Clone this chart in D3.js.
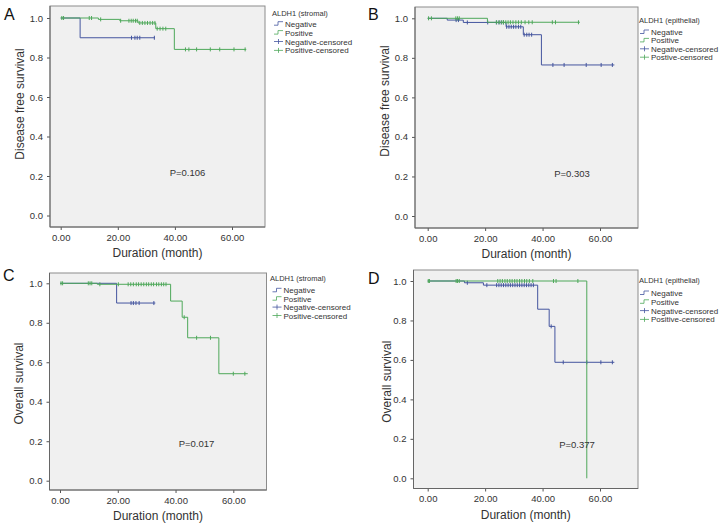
<!DOCTYPE html>
<html>
<head>
<meta charset="utf-8">
<script src="https://cdn.jsdelivr.net/npm/d3@7/dist/d3.min.js"></script>
<style>
  html, body { margin: 0; padding: 0; background: #ffffff; }
  svg { display: block; font-family: "Liberation Sans", Arial, Helvetica, sans-serif; font-weight: normal; }
</style>
</head>
<body>
<svg id="chart" width="720" height="528"></svg>
<script>
// ---------------- DATA ----------------
const xTicks = [0, 20, 40, 60];
const yTicks = [0, 0.2, 0.4, 0.6, 0.8, 1.0];
const xTitle = "Duration (month)";
const panelLetters = ["A", "B", "C", "D"];
const yTitles = ["Disease free survival", "Disease free survival", "Overall survival", "Overall survival"];
const legendTitles = ["ALDH1 (stromal)", "ALDH1 (epithelial)", "ALDH1 (stromal)", "ALDH1 (epithelial)"];
const legendItemsA = ["Negative", "Positive", "Negative-censored", "Positive-censored"];
const legendItemsB = ["Negative", "Positive", "Negative-censored", "Postive-censored"];
const pValues = ["P=0.106", "P=0.303", "P=0.017", "P=0.377"];

// Panel A: disease free survival, stromal
const A_neg_time = [0, 6.8, 33];
const A_neg_surv = [1, 0.9, 0.9];
const A_neg_cens = [24.8, 26.0, 26.8, 27.7, 32.8];
const A_pos_time = [0, 13.2, 20.7, 27.1, 33.3, 39.8, 65];
const A_pos_surv = [1, 0.993, 0.986, 0.975, 0.946, 0.841, 0.841];
const A_pos_cens = [0.4, 1.0, 10.0, 10.8, 14.0, 21.0, 23.9, 24.7, 25.4, 26.2, 26.8, 27.7, 28.6, 29.5, 30.4, 31.3, 32.2, 33.0, 33.8, 34.8, 35.8, 36.8, 43.7, 44.9, 47.6, 52.4, 55.7, 60.7, 64.6];

// Panel B: disease free survival, epithelial
const B_neg_time = [0, 6.8, 12.4, 27.3, 33.3, 39.6, 65];
const B_neg_surv = [1, 0.991, 0.979, 0.957, 0.917, 0.764, 0.764];
const B_neg_cens = [9.9, 10.7, 13.8, 20.9, 23.9, 24.8, 25.6, 26.4, 27.5, 28.3, 29.1, 29.9, 30.7, 31.6, 32.4, 33.6, 34.5, 35.3, 36.2, 43.6, 47.5, 55.2, 60.4, 64.3];
const B_pos_time = [0, 20.8, 53];
const B_pos_surv = [1, 0.98, 0.98];
const B_pos_cens = [0.3, 1.3, 9.8, 10.4, 11.0, 24.0, 24.9, 25.8, 26.4, 27.2, 28.0, 28.8, 29.7, 30.7, 31.6, 32.6, 33.9, 35.2, 36.4, 43.4, 44.5, 52.5];

// Panel C: overall survival, stromal
const C_neg_time = [0, 19.6, 33];
const C_neg_surv = [1, 0.9, 0.9];
const C_neg_cens = [24.6, 25.4, 26.3, 27.4, 32.5];
const C_pos_time = [0, 12.9, 38.3, 42.3, 44.2, 55.0, 65];
const C_pos_surv = [1, 0.995, 0.91, 0.828, 0.724, 0.542, 0.542];
const C_pos_cens = [0.35, 0.9, 9.8, 10.4, 11.0, 13.8, 20.2, 23.6, 24.5, 25.4, 26.4, 27.2, 28.1, 29.0, 29.9, 30.7, 31.6, 32.4, 33.4, 34.2, 35.1, 35.9, 36.7, 43.0, 47.3, 52.1, 60.0, 64.0];

// Panel D: overall survival, epithelial
const D_neg_time = [0, 12.8, 19.4, 38.3, 42.3, 44.3, 65];
const D_neg_surv = [1, 0.991, 0.979, 0.857, 0.77, 0.588, 0.588];
const D_neg_cens = [13.8, 20.6, 24.0, 24.8, 25.6, 26.4, 27.2, 28.0, 28.8, 29.6, 30.4, 31.2, 32.0, 32.8, 33.6, 34.4, 35.2, 36.0, 36.8, 43.0, 47.2, 55.4, 60.3, 64.3];
const D_pos_time = [0, 55.4, 55.4];
const D_pos_surv = [1, 0, 0];
const D_pos_cens = [0.2, 0.6, 9.9, 10.4, 11.0, 24.4, 25.2, 26.0, 26.9, 27.7, 28.6, 29.4, 30.3, 31.1, 32.0, 32.8, 33.7, 34.5, 35.4, 36.6, 43.8, 44.7, 52.3];

// ---------------- LAYOUT ----------------
const NEG_COLOR = "#44559f";
const POS_COLOR = "#4ea85a";
const TEXT_COLOR = "#333333";
const layout = [
  { frame: [50, 6, 265, 227], x0: 60.7, x60: 232, y1: 18, y0: 215.5,
    letter: [4, 20], ytitle: [24, 104], legend: [272, 15.7, 285, 26.7, 8.9], p: [187.5, 176] },
  { frame: [415, 7, 638, 228], x0: 427.7, x60: 600, y1: 18.3, y0: 216,
    letter: [368, 20], ytitle: [389, 101], legend: [639, 22.7, 651, 35, 8.4], p: [572, 176.7] },
  { frame: [49.5, 273, 266.5, 490], x0: 60, x60: 233.3, y1: 283.3, y0: 480.7,
    letter: [3, 281], ytitle: [23, 383.5], legend: [270, 280.7, 283.5, 293.3, 8.4], p: [196.5, 446.7] },
  { frame: [413.5, 270, 638, 488.5], x0: 427.7, x60: 600, y1: 281, y0: 478.3,
    letter: [368, 284], ytitle: [391, 381.7], legend: [639, 282.7, 651, 296, 8.8], p: [577, 447.7] }
];

const panels = [
  { neg: [A_neg_time, A_neg_surv, A_neg_cens], pos: [A_pos_time, A_pos_surv, A_pos_cens], items: legendItemsA },
  { neg: [B_neg_time, B_neg_surv, B_neg_cens], pos: [B_pos_time, B_pos_surv, B_pos_cens], items: legendItemsB },
  { neg: [C_neg_time, C_neg_surv, C_neg_cens], pos: [C_pos_time, C_pos_surv, C_pos_cens], items: legendItemsA },
  { neg: [D_neg_time, D_neg_surv, D_neg_cens], pos: [D_pos_time, D_pos_surv, D_pos_cens], items: legendItemsA }
];

const svg = d3.select("#chart");

function survAt(times, surv, t) {
  let v = surv[0];
  for (let i = 0; i < times.length; i++) { if (times[i] <= t) v = surv[i]; }
  return v;
}

panels.forEach((pd, i) => {
  const L = layout[i];
  const [fx1, fy1, fx2, fy2] = L.frame;
  const x = d3.scaleLinear().domain([0, 60]).range([L.x0, L.x60]);
  const y = d3.scaleLinear().domain([0, 1]).range([L.y0, L.y1]);
  const g = svg.append("g");

  // plot background + frame
  g.append("rect").attr("x", fx1).attr("y", fy1).attr("width", fx2 - fx1).attr("height", fy2 - fy1)
    .attr("fill", "#f0f0f0").attr("stroke", "#8c8c8c").attr("stroke-width", 1);

  // axes
  const yAxis = d3.axisLeft(y).tickValues(yTicks).tickFormat(d3.format(".1f")).tickSize(3).tickPadding(4);
  const ya = g.append("g").attr("transform", `translate(${fx1},0)`).call(yAxis);
  ya.select(".domain").remove();
  const xAxis = d3.axisBottom(x).tickValues(xTicks).tickFormat(d3.format(".2f")).tickSize(3).tickPadding(4);
  const xa = g.append("g").attr("transform", `translate(0,${fy2})`).call(xAxis);
  xa.select(".domain").remove();
  [ya, xa].forEach(a => {
    a.selectAll(".tick line").attr("stroke", "#555");
    a.selectAll(".tick text").attr("fill", TEXT_COLOR).style("font-size", "9.5px")
      .style("font-family", "'Liberation Sans', Arial, sans-serif");
  });
  g.append("line").attr("x1", fx1).attr("x2", fx1).attr("y1", fy1).attr("y2", fy2).attr("stroke", "#666");
  g.append("line").attr("x1", fx1).attr("x2", fx2).attr("y1", fy2).attr("y2", fy2).attr("stroke", "#666");

  // curves
  const line = d3.line().x(d => x(d[0])).y(d => y(d[1])).curve(d3.curveStepAfter);
  [[pd.neg, NEG_COLOR], [pd.pos, POS_COLOR]].forEach(([s, col]) => {
    const [t, sv, cens] = s;
    const pts = t.map((tt, k) => [tt, sv[k]]);
    g.append("path").attr("d", line(pts)).attr("fill", "none").attr("stroke", col).attr("stroke-width", 1);
    g.selectAll(null).data(cens).enter().append("line")
      .attr("x1", d => x(d)).attr("x2", d => x(d))
      .attr("y1", d => y(survAt(t, sv, d)) - 2).attr("y2", d => y(survAt(t, sv, d)) + 2)
      .attr("stroke", col).attr("stroke-width", 1);
  });

  // P value
  g.append("text").attr("x", L.p[0]).attr("y", L.p[1]).attr("text-anchor", "middle")
    .style("font-size", "9.5px").attr("fill", TEXT_COLOR).text(pValues[i]);

  // axis titles
  g.append("text").attr("x", (fx1 + fx2) / 2).attr("y", fy2 + 30).attr("text-anchor", "middle")
    .style("font-size", "12px").attr("fill", TEXT_COLOR).text(xTitle);
  g.append("text").attr("transform", `translate(${L.ytitle[0]},${L.ytitle[1]}) rotate(-90)`)
    .attr("text-anchor", "middle").style("font-size", "12px").attr("fill", TEXT_COLOR).text(yTitles[i]);

  // panel letter
  g.append("text").attr("x", L.letter[0]).attr("y", L.letter[1]).style("font-size", "16px")
    .attr("fill", "#111").text(panelLetters[i]);

  // legend
  const [tx, ty, ix, iy, step] = L.legend;
  g.append("text").attr("x", tx).attr("y", ty).style("font-size", "7.5px").attr("fill", TEXT_COLOR).text(legendTitles[i]);
  pd.items.forEach((label, k) => {
    const by = iy + k * step;
    const col = (k % 2 === 0) ? NEG_COLOR : POS_COLOR;
    const sx = ix - 11;
    if (k < 2) {
      g.append("path").attr("d", `M${sx},${by - 1.5} H${sx + 4} V${by - 5} H${sx + 9}`)
        .attr("fill", "none").attr("stroke", col).attr("stroke-width", 0.8);
    } else {
      g.append("path").attr("d", `M${sx},${by - 3} H${sx + 9} M${sx + 4.5},${by - 5.5} V${by - 0.5}`)
        .attr("fill", "none").attr("stroke", col).attr("stroke-width", 0.8);
    }
    g.append("text").attr("x", ix).attr("y", by).style("font-size", "8px").attr("fill", TEXT_COLOR).text(label);
  });
});
</script>
</body>
</html>
